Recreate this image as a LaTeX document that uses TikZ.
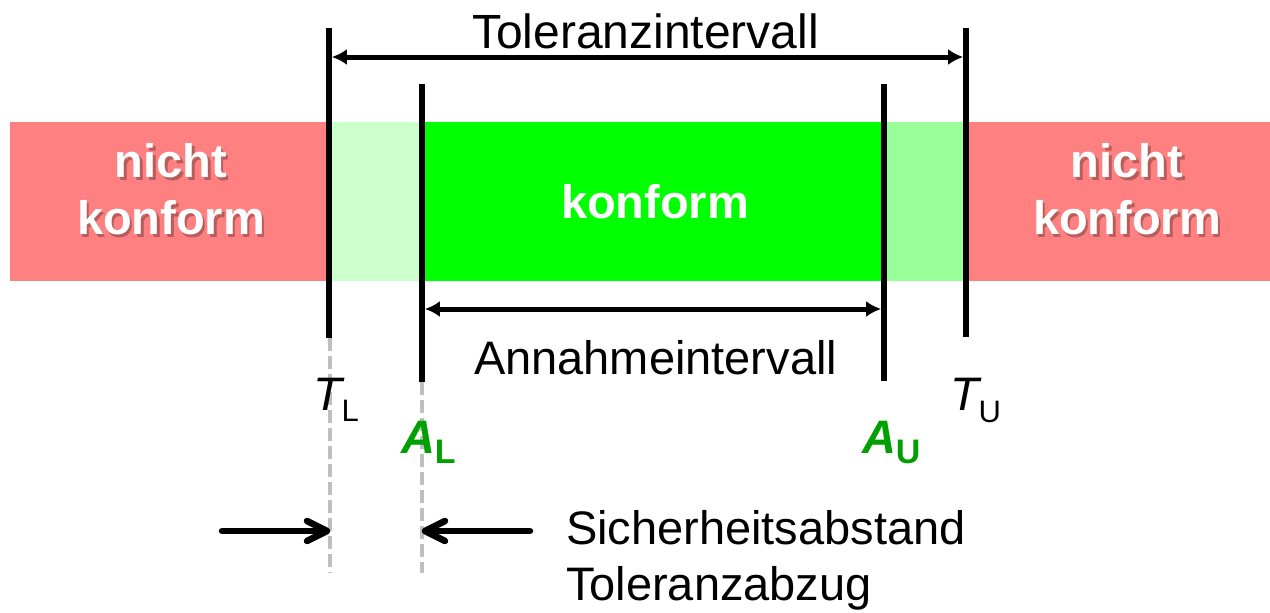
\documentclass[tikz,border=0pt]{standalone}
\usepackage{fontspec}
\setmainfont{Liberation Sans}
\usetikzlibrary{arrows.meta,calc}
\definecolor{nokRed}{RGB}{255,128,128}
\definecolor{paleGreen}{RGB}{204,255,204}
\definecolor{midGreen}{RGB}{153,255,153}
\definecolor{okGreen}{RGB}{0,255,0}
\definecolor{labelGreen}{RGB}{0,160,0}
\definecolor{guideGray}{RGB}{191,191,191}

\begin{document}
\begin{tikzpicture}[x=1pt,y=-1pt,
  every node/.style={inner sep=0pt, outer sep=0pt},
  bar/.style={line width=5.7pt},
  dimline/.style={line width=5pt, {Latex[length=15pt,width=16pt]}-{Latex[length=15pt,width=16pt]}},
  guide/.style={line width=4.7pt, draw=guideGray, dash pattern=on 13pt off 5pt},
  pointer/.style={line width=6.5pt, line cap=round, line join=round},
  bigtext/.style={font=\fontsize{47}{56}\selectfont},
  zonetext/.style={font=\bfseries\fontsize{47}{57}\selectfont, text=white, align=center},
  zoneshadow/.style={font=\bfseries\fontsize{47}{57}\selectfont, text=black, text opacity=0.28, align=center},
  limitlabel/.style={font=\fontsize{47}{47}\selectfont, anchor=base west},
  accept/.style={font=\bfseries\fontsize{47}{47}\selectfont, text=labelGreen, anchor=base west},
]
\useasboundingbox (0,0) rectangle (1270,613);

% conformity zones
\fill[nokRed]    (10,122)  rectangle (329,281);
\fill[paleGreen] (329,122) rectangle (422,281);
\fill[okGreen]   (422,122) rectangle (884,281);
\fill[midGreen]  (884,122) rectangle (966,281);
\fill[nokRed]    (966,122) rectangle (1270,281);

% zone labels (with a soft drop shadow on the red zones)
\node[zoneshadow] at (173.5,192) {nicht\\konform};
\node[zonetext] (leftZone) at (171,189.5) {nicht\\konform};
\node[zoneshadow] at (1129.5,192) {nicht\\konform};
\node[zonetext] (rightZone) at (1127,189.5) {nicht\\konform};
\node[font=\bfseries\fontsize{47}{47}\selectfont, text=white, anchor=base] (okZone) at (655,218) {konform};

% limit positions
\coordinate (TLtop) at (329,28);
\coordinate (TLbot) at (329,338);
\coordinate (ALtop) at (422,84);
\coordinate (ALbot) at (422,382);
\coordinate (AUtop) at (884,84);
\coordinate (AUbot) at (884,381);
\coordinate (TUtop) at (966,28);
\coordinate (TUbot) at (966,337);
\coordinate (TLend) at (330,573);
\coordinate (ALend) at (422,573);

% dashed guides below the limits
\draw[guide] (330,338) -- (TLend);
\draw[guide] (ALbot) -- (ALend);

% limit bars
\draw[bar] (TLtop) -- (TLbot);
\draw[bar] (ALtop) -- (ALbot);
\draw[bar] (AUtop) -- (AUbot);
\draw[bar] (TUtop) -- (TUbot);

% interval dimensions
\coordinate (tolL) at (331.85,57);
\coordinate (tolR) at (963.15,57);
\coordinate (accL) at (424.85,309);
\coordinate (accR) at (881.15,309);
\draw[dimline] (tolL) -- (tolR);
\draw[dimline] (accL) -- (accR);
\node[font=\fontsize{48}{48}\selectfont, anchor=base] (tolText) at (645.5,48) {Toleranzintervall};
\node[bigtext, anchor=base west] (accText) at (474,374) {Annahmeintervall};

% limit labels
\node[limitlabel] (TL) at (313,410) {\itshape T\upshape\raisebox{-11pt}{\fontsize{31}{31}\selectfont L}};
\node[limitlabel] (TU) at (950,410) {\itshape T\upshape\raisebox{-12pt}{\fontsize{31}{31}\selectfont U}};
\node[accept] (AL) at (401,453) {\itshape A\upshape\raisebox{-10pt}{\fontsize{34}{34}\selectfont L}};
\node[accept] (AU) at (862,453) {\itshape A\upshape\raisebox{-10pt}{\fontsize{34}{34}\selectfont U}};

% guard band pointers with open chevron heads
\coordinate (pFromL) at (222,531);
\coordinate (pToL) at (327,531);
\coordinate (pFromR) at (530,531);
\coordinate (pToR) at (425,531);
\draw[pointer] (pFromL) -- (pToL);
\draw[pointer] ($(pToL)+(-20,-10)$) -- (pToL) -- ($(pToL)+(-20,10)$);
\draw[pointer] (pFromR) -- (pToR);
\draw[pointer] ($(pToR)+(20,-10)$) -- (pToR) -- ($(pToR)+(20,10)$);
\node[bigtext, anchor=north west, align=left] (guardText) at (566,510) {Sicherheitsabstand\\Toleranzabzug};
\end{tikzpicture}
\end{document}
